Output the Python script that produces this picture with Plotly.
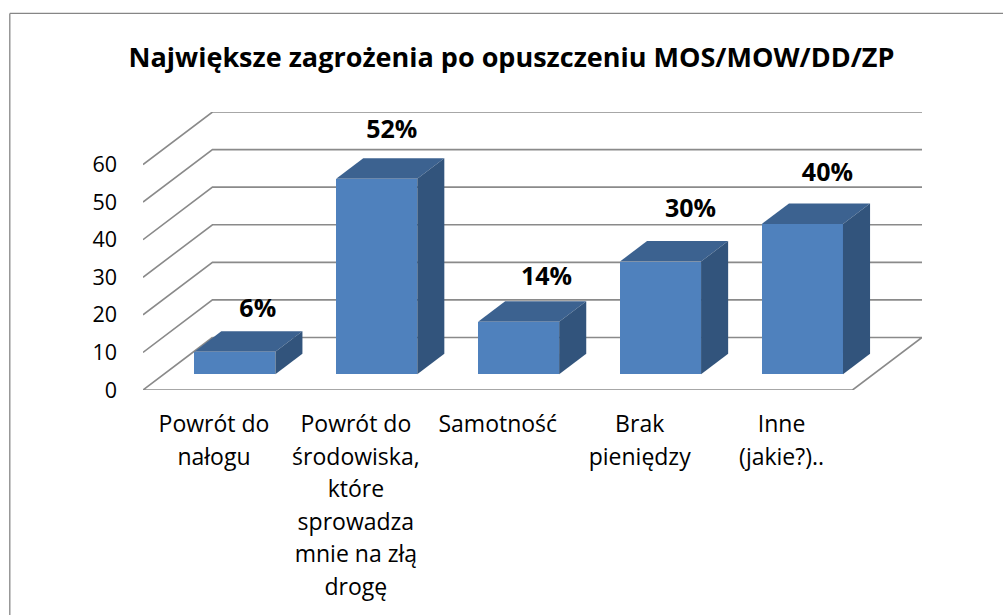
import plotly.graph_objects as go

TITLE = "Największe zagrożenia po opuszczeniu MOS/MOW/DD/ZP"
CATEGORIES = [
    ["Powrót do", "nałogu"],
    ["Powrót do", "środowiska,", "które", "sprowadza", "mnie na złą", "drogę"],
    ["Samotność"],
    ["Brak", "pieniędzy"],
    ["Inne", "(jakie?).."],
]
VALUES = [6, 52, 14, 30, 40]
Y_TICKS = [0, 10, 20, 30, 40, 50, 60]

W, H = 1003, 615
L, R, T, B = 142.7, 921.7, 112.0, 389.7
PX_PER_CAT = 142.0
PX_PER_UNIT = 3.758
DEPTH_X = 69.5 / PX_PER_CAT      # floor depth in category units
DEPTH_Y = 52.5 / PX_PER_UNIT     # floor depth in value units
BAR_W = 1 / 1.75
D0, D1 = 0.30, 0.69              # bar's front/back position across the floor depth
LABEL_FONT = "'Open Sans', sans-serif"
LABEL_PX = 23
GRID = "#8a8a8a"
FRONT, TOP, SIDE = "#4f81bd", "#3c6290", "#32547c"
LIFT_PX = [41, 47, 43, 51, 49]   # text lift above each bar's front top
SHIFT_PX = [23, 15, 28, 30, 25]  # text shift right of each bar's front centre

xmax = 5 + DEPTH_X
ymax = 60 + DEPTH_Y

fig = go.Figure()

# back wall and side wall grid lines (value levels)
for v in Y_TICKS[1:]:
    fig.add_trace(go.Scatter(
        x=[0, DEPTH_X, 5 + DEPTH_X], y=[v, v + DEPTH_Y, v + DEPTH_Y],
        mode="lines", line=dict(color=GRID, width=1.6), cliponaxis=False,
        hoverinfo="skip", showlegend=False, xaxis="x", yaxis="y"))
# floor
fig.add_trace(go.Scatter(
    x=[DEPTH_X, 0, 5, 5 + DEPTH_X, DEPTH_X],
    y=[DEPTH_Y, 0, 0, DEPTH_Y, DEPTH_Y],
    mode="lines", line=dict(color=GRID, width=1.6), cliponaxis=False,
    hoverinfo="skip", showlegend=False, xaxis="x", yaxis="y"))

# bars: front faces through a real bar trace on the overlaying axes
centers = [i + 0.5 + D0 * DEPTH_X for i in range(5)]
base = D0 * DEPTH_Y
fig.add_trace(go.Bar(
    x=centers, y=VALUES, base=[base] * 5, width=BAR_W,
    marker=dict(color=FRONT, line=dict(width=0)),
    showlegend=False, xaxis="x2", yaxis="y2"))

dd = (D1 - D0)
for c, v in zip(centers, VALUES):
    x0, x1 = c - BAR_W / 2, c + BAR_W / 2
    ty = base + v
    bx, by = dd * DEPTH_X, dd * DEPTH_Y
    fig.add_trace(go.Scatter(
        x=[x0, x1, x1 + bx, x0 + bx, x0], y=[ty, ty, ty + by, ty + by, ty],
        mode="none", fill="toself", fillcolor=TOP, cliponaxis=False,
        hoverinfo="skip", showlegend=False, xaxis="x2", yaxis="y2"))
    fig.add_trace(go.Scatter(
        x=[x1, x1 + bx, x1 + bx, x1, x1], y=[base, base + by, ty + by, ty, base],
        mode="none", fill="toself", fillcolor=SIDE, cliponaxis=False,
        hoverinfo="skip", showlegend=False, xaxis="x2", yaxis="y2"))

# data labels
fig.add_trace(go.Scatter(
    x=[c + s / PX_PER_CAT for c, s in zip(centers, SHIFT_PX)],
    y=[base + v + p / PX_PER_UNIT for v, p in zip(VALUES, LIFT_PX)],
    mode="text", text=[f"{v}%" for v in VALUES], textposition="middle center",
    textfont=dict(family=LABEL_FONT, size=25, color="#000000", weight="bold"),
    cliponaxis=False, hoverinfo="skip", showlegend=False, xaxis="x2", yaxis="y2"))

# category labels: bigger tick font fixes the line pitch, inner span sets the glyph size
ticktext = ["<br>".join(f'<span style="font-size:{LABEL_PX}px">{t}</span>' for t in c) for c in CATEGORIES]

fig.update_layout(
    width=W, height=H, autosize=False,
    paper_bgcolor="white", plot_bgcolor="rgba(0,0,0,0)",
    margin=dict(l=L, r=W - R, t=T, b=H - B, pad=0),
    showlegend=False,
    bargap=0,
    title=dict(text=f"<b>{TITLE}</b>", x=511.5 / W, xanchor="center", xref="container",
               y=1 - 58 / H, yanchor="middle",
               font=dict(family=LABEL_FONT, size=27, color="#000000")),
    xaxis=dict(range=[0, xmax], tickmode="array", tickvals=[i + 0.5 for i in range(5)],
               ticktext=ticktext, showgrid=False, zeroline=False, showline=False,
               ticks="", ticklabelstandoff=16, tickangle=0,
               tickfont=dict(family=LABEL_FONT, size=25, color="#000000")),
    yaxis=dict(range=[0, ymax], tickmode="array", tickvals=Y_TICKS,
               showgrid=False, zeroline=False, showline=False, ticks="",
               ticklabelstandoff=25,
               tickfont=dict(family=LABEL_FONT, size=21.5, color="#000000")),
    xaxis2=dict(range=[0, xmax], overlaying="x", visible=False),
    yaxis2=dict(range=[0, ymax], overlaying="y", visible=False),
    shapes=[
        dict(type="line", xref="paper", yref="paper", layer="below",
             x0=(9.5 - L) / (R - L), x1=(W - L) / (R - L),
             y0=(B - 13.5) / (B - T), y1=(B - 13.5) / (B - T),
             line=dict(color="#868686", width=1.3)),
        dict(type="line", xref="paper", yref="paper", layer="below",
             x0=(9.5 - L) / (R - L), x1=(9.5 - L) / (R - L),
             y0=(B - 13.5) / (B - T), y1=(B - H) / (B - T),
             line=dict(color="#868686", width=1.3)),
    ],
)

fig.write_html("out.html", config={"displayModeBar": False},
               post_script="document.body.style.margin='0';document.documentElement.style.overflow='hidden';")
